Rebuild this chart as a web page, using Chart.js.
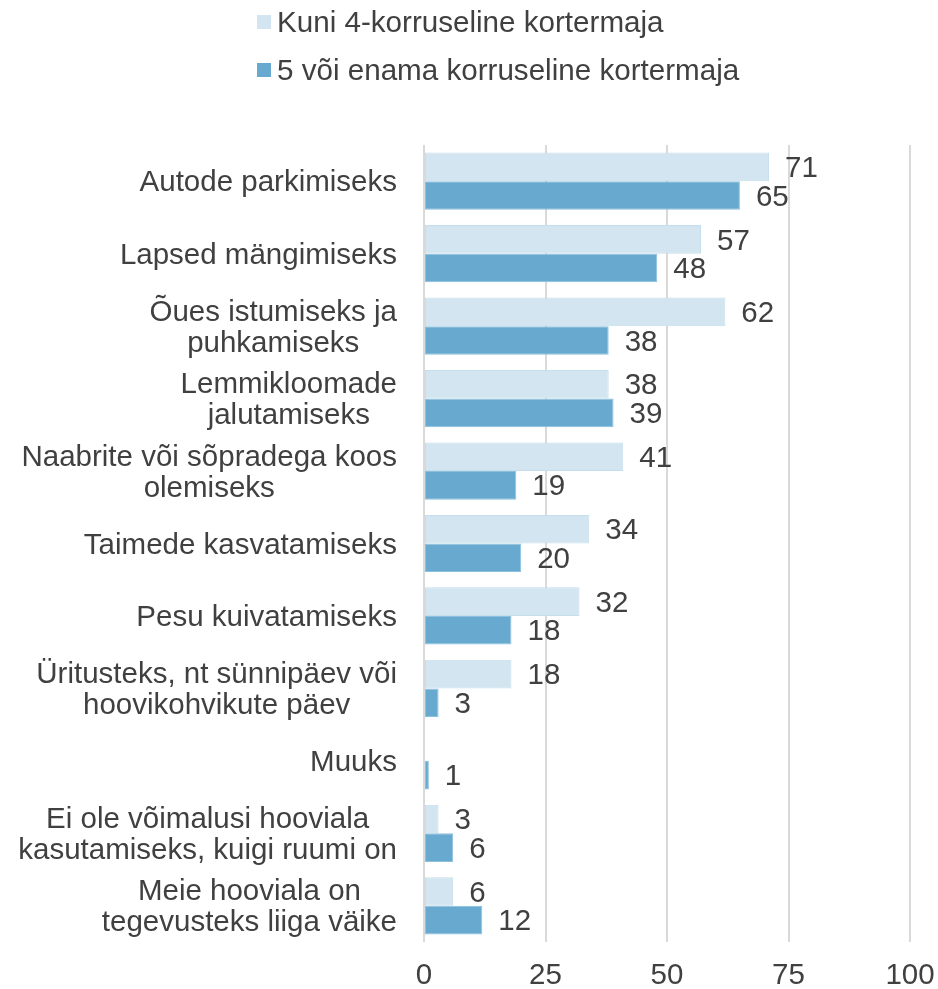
<!DOCTYPE html>
<html>
<head>
<meta charset="utf-8">
<script src="https://cdn.jsdelivr.net/npm/chart.js@4/dist/chart.umd.min.js"></script>
<style>
  html, body { margin: 0; padding: 0; background: #ffffff; }
  #wrap { position: relative; width: 938px; height: 989px; }
  #legend { position: absolute; left: 257px; top: 0; font-family: "Liberation Sans", Arial, sans-serif; font-size: 29.6px; color: #404040; }
  .li { position: absolute; left: 0; white-space: nowrap; height: 34px; line-height: 34px; }
  .li .box { position: absolute; left: 0; top: 10px; width: 14px; height: 14px; }
  .li .txt { position: absolute; left: 20px; top: 0; }
</style>
</head>
<body>
<div id="wrap">
  <canvas id="c" width="938" height="989"></canvas>
  <div id="legend"></div>
</div>
<script>
const categories = [
  ["Autode parkimiseks"],
  ["Lapsed mängimiseks"],
  ["Õues istumiseks ja", "puhkamiseks"],
  ["Lemmikloomade", "jalutamiseks"],
  ["Naabrite või sõpradega koos", "olemiseks"],
  ["Taimede kasvatamiseks"],
  ["Pesu kuivatamiseks"],
  ["Üritusteks, nt sünnipäev või", "hoovikohvikute päev"],
  ["Muuks"],
  ["Ei ole võimalusi hooviala", "kasutamiseks, kuigi ruumi on"],
  ["Meie hooviala on", "tegevusteks liiga väike"]
];
const seriesNames = ["Kuni 4-korruseline kortermaja", "5 või enama korruseline kortermaja"];
const seriesUpTo4 = [71, 57, 62, 38, 41, 34, 32, 18, null, 3, 6];
const series5Plus = [65, 48, 38, 39, 19, 20, 18, 3, 1, 6, 12];
const xTickValues = [0, 25, 50, 75, 100];

const FONT = '"Liberation Sans", Arial, sans-serif';
const FS = 29.5;
const TEXT = '#404040';
const colors = ['#d2e5f0', '#67a9cf'];

const yLabelsPlugin = {
  id: 'yLabels',
  afterDraw(chart) {
    const ctx = chart.ctx;
    const ys = chart.scales.y;
    ctx.save();
    ctx.font = FS + 'px ' + FONT;
    ctx.fillStyle = TEXT;
    ctx.textAlign = 'center';
    ctx.textBaseline = 'middle';
    const rightEdge = chart.chartArea.left - 27;
    const lh = 31;
    chart.data.labels.forEach((lines, i) => {
      const cy = ys.getPixelForValue(i);
      let w = 0;
      lines.forEach(l => { w = Math.max(w, ctx.measureText(l).width); });
      const cx = rightEdge - w / 2;
      const y0 = cy - (lines.length - 1) * lh / 2 + 2;
      lines.forEach((l, k) => ctx.fillText(l, cx, y0 + k * lh));
    });
    ctx.restore();
  }
};

const valueLabelsPlugin = {
  id: 'valueLabels',
  afterDatasetsDraw(chart) {
    const ctx = chart.ctx;
    ctx.save();
    ctx.font = FS + 'px ' + FONT;
    ctx.fillStyle = TEXT;
    ctx.textAlign = 'left';
    ctx.textBaseline = 'middle';
    chart.data.datasets.forEach((ds, di) => {
      const meta = chart.getDatasetMeta(di);
      meta.data.forEach((bar, i) => {
        const v = ds.data[i];
        if (v === null || v === undefined) return;
        ctx.fillText(String(v), bar.x + 16, bar.y + 2);
      });
    });
    ctx.restore();
  }
};

const chart = new Chart(document.getElementById('c'), {
  type: 'bar',
  data: {
    labels: categories,
    datasets: [
      { label: seriesNames[0], data: seriesUpTo4, backgroundColor: colors[0], borderColor: '#c6deec', borderWidth: 1, borderSkipped: false },
      { label: seriesNames[1], data: series5Plus, backgroundColor: colors[1], borderColor: '#8cc0dd', borderWidth: 1, borderSkipped: false }
    ]
  },
  options: {
    indexAxis: 'y',
    responsive: false,
    animation: false,
    layout: { padding: { top: 145, right: 28, bottom: 1, left: 0 } },
    datasets: { bar: { categoryPercentage: 0.79, barPercentage: 1.0 } },
    plugins: {
      legend: { display: false },
      tooltip: { enabled: false }
    },
    scales: {
      x: {
        min: 0, max: 100,
        afterBuildTicks(scale) { scale.ticks = xTickValues.map(v => ({ value: v })); },
        afterFit(scale) { scale.height = 46; scale.paddingLeft = 0; scale.paddingRight = 0; },
        grid: { color: '#d9d9d9', lineWidth: 2, drawTicks: false },
        border: { display: false },
        ticks: { color: TEXT, font: { family: FONT, size: FS, lineHeight: 1 }, padding: 19 }
      },
      y: {
        grid: { display: false },
        border: { display: false },
        ticks: { display: false },
        afterFit(scale) { scale.width = 424; }
      }
    }
  },
  plugins: [yLabelsPlugin, valueLabelsPlugin]
});

// HTML legend built from the chart's datasets
const legendEl = document.getElementById('legend');
chart.data.datasets.forEach((ds, i) => {
  const item = document.createElement('div');
  item.className = 'li';
  item.style.top = (5 + i * 48) + 'px';
  const box = document.createElement('span');
  box.className = 'box';
  box.style.background = ds.backgroundColor;
  const txt = document.createElement('span');
  txt.className = 'txt';
  txt.textContent = ds.label;
  item.appendChild(box);
  item.appendChild(txt);
  legendEl.appendChild(item);
});
</script>
</body>
</html>
